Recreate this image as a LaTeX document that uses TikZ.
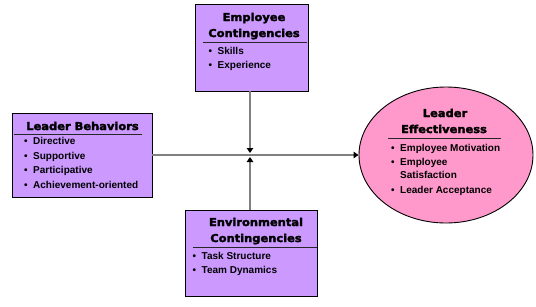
\documentclass[tikz,border=0pt]{standalone}
\usepackage{fontspec}
\setmainfont{Liberation Sans}
\newfontfamily\hfont{DejaVu Sans}[UprightFont={* Bold}, FakeBold=2.5, FakeStretch=1.06]
\newfontfamily\bfont{Liberation Sans}[UprightFont={* Bold}]
\usetikzlibrary{arrows.meta,shapes.geometric}
\definecolor{boxfill}{HTML}{CC99FF}
\definecolor{ellfill}{HTML}{FF99CC}
\definecolor{conncol}{HTML}{808080}
\tikzset{
  box/.style={draw=black, line width=0.9pt, fill=boxfill, rectangle, inner sep=0pt},
  ell/.style={draw=black, line width=0.9pt, fill=ellfill, ellipse, inner sep=0pt},
  head/.style={font=\hfont\fontsize{10.8}{16}\selectfont, inner sep=0pt, anchor=base},
  item/.style={font=\bfont\fontsize{10}{14}\selectfont, inner sep=0pt, anchor=base west},
  hrule/.style={draw=black!85, line width=1pt},
  conn/.style={draw=conncol, line width=1.4pt},
  tip/.style={-{Triangle[length=5pt,width=6.5pt,color=black]}}
}
\newcommand\itm[3]{\node[item] (#1) at (#2) {\makebox[9pt][l]{\textbullet}#3};}
\begin{document}
\begin{tikzpicture}[x=1pt,y=-1pt]
\useasboundingbox (0,0) rectangle (536,306);
% shapes
\node[box, minimum width=113pt, minimum height=87pt] (emp) at (251.5,47.5) {};
\node[box, minimum width=140pt, minimum height=84pt] (lb) at (82,155) {};
\node[box, minimum width=132pt, minimum height=86pt] (env) at (251,253) {};
\node[ell, minimum width=174pt, minimum height=136pt] (eff) at (446,155) {};
% connectors
\coordinate (c) at (250,155);
\draw[conn] (lb.east) -- (c);
\draw[conn, tip] (c) -- (eff.west);
\draw[conn, tip] (emp.south -| c) -- ([yshift=2pt]c);
\draw[conn, tip] (env.north -| c) -- ([yshift=-2pt]c);
% Employee Contingencies
\node[head] (empH1) at (254,21) {Employee};
\node[head] (empH2) at (254,37) {Contingencies};
\coordinate (empRa) at (203,42); \coordinate (empRb) at (307,42);
\draw[hrule] (empRa) -- (empRb);
\itm{empI1}{208.5,54}{Skills}
\itm{empI2}{208.5,68}{Experience}
% Leader Behaviors
\node[head] (lbH1) at (82.5,130) {Leader Behaviors};
\coordinate (lbRa) at (14,134); \coordinate (lbRb) at (142,134);
\draw[hrule] (lbRa) -- (lbRb);
\itm{lbI1}{24,144}{Directive}
\itm{lbI2}{24,159}{Supportive}
\itm{lbI3}{24,173.5}{Participative}
\itm{lbI4}{24,188}{Achievement-oriented}
% Environmental Contingencies
\node[head] (envH1) at (256,226) {Environmental};
\node[head] (envH2) at (256,242) {Contingencies};
\coordinate (envRa) at (193,247); \coordinate (envRb) at (317,247);
\draw[hrule] (envRa) -- (envRb);
\itm{envI1}{192.5,259}{Task Structure}
\itm{envI2}{192.5,273}{Team Dynamics}
% Leader Effectiveness
\node[head] (effH1) at (445,117) {Leader};
\node[head] (effH2) at (444,133) {Effectiveness};
\coordinate (effRa) at (388,138); \coordinate (effRb) at (501,138);
\draw[hrule] (effRa) -- (effRb);
\itm{effI1}{391,151}{Employee Motivation}
\itm{effI2}{391,165}{Employee}
\node[item] (effI2b) at (400,178.5) {Satisfaction};
\itm{effI3}{391,193}{Leader Acceptance}
\end{tikzpicture}
\end{document}
